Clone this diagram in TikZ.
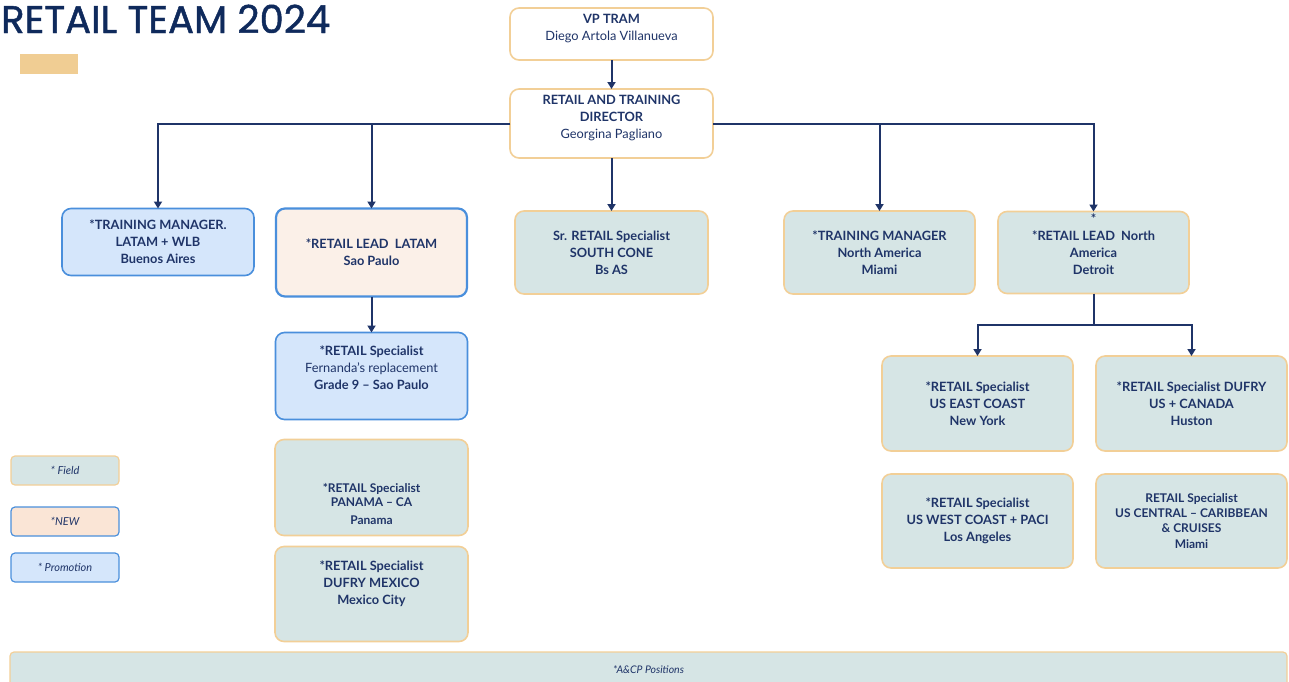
\documentclass[tikz,border=0pt]{standalone}
\usepackage{fontspec}
\setmainfont{Lato}
\newfontfamily\titlefont[FakeBold=1.2]{Poppins}
\usetikzlibrary{positioning,arrows.meta}

\definecolor{navy}{HTML}{1F3468}
\definecolor{titleblue}{HTML}{0F2A5C}
\definecolor{fieldfill}{HTML}{D6E5E5}
\definecolor{fieldline}{HTML}{F2CF97}
\definecolor{promofill}{HTML}{D5E6FB}
\definecolor{promoline}{HTML}{4A8FDC}
\definecolor{newfill}{HTML}{FBF0E8}
\definecolor{newlegend}{HTML}{FAE5D6}
\definecolor{gold}{HTML}{F0CD93}

\tikzset{
  box/.style={draw, rounded corners=9pt, line width=1.6pt, align=center, text=navy,
    font=\bfseries\fontsize{12.8}{17}\selectfont, inner sep=2pt, outer sep=0pt},
  head/.style={box, draw=fieldline, fill=white, minimum width=203pt},
  field/.style={box, draw=fieldline, fill=fieldfill, minimum width=192pt},
  promo/.style={box, draw=promoline, fill=promofill, minimum width=192pt},
  newpos/.style={box, draw=promoline, fill=newfill, line width=2.2pt, minimum width=191pt},
  legend/.style={box, rounded corners=4pt, line width=1.2pt, minimum width=108pt,
    minimum height=29pt, font=\itshape\fontsize{11}{13}\selectfont},
  small/.style={font=\bfseries\fontsize{12}{15.5}\selectfont},
  conn/.style={draw=navy, line width=2pt, -{Triangle[width=8pt,length=7pt]}},
}

\begin{document}
\begin{tikzpicture}[x=1pt,y=-1pt]
  \useasboundingbox (0,0) rectangle (1289,681);

  % title
  \node[anchor=base west, text=titleblue, font=\titlefont\fontsize{38.5}{42}\selectfont, inner sep=0pt] (title) at (1,33) {RETAIL TEAM 2024};
  \fill[gold] (20,54) rectangle (78,74);

  % top of the chart
  \node[head, minimum height=52pt] (vp) at (611.5,34) {VP TRAM\\{\mdseries Diego Artola Villanueva}\\[-4pt]\mbox{}};
  \node[head, minimum height=69pt, below=29pt of vp] (dir) {RETAIL AND TRAINING\\DIRECTOR\\{\mdseries Georgina Pagliano}\\[-3pt]\mbox{}};

  % first row
  \node[field, minimum width=193pt, minimum height=83pt, below=53pt of dir] (srs) {Sr. RETAIL Specialist\\SOUTH CONE\\Bs AS};
  \node[newpos, minimum height=88pt, left=48pt of srs] (rll) {*RETAIL LEAD\ \ LATAM\\Sao Paulo};
  \node[promo, minimum height=67pt, anchor=north east] (tml) at ([xshift=-22pt]rll.north west) {*TRAINING MANAGER.\\LATAM + WLB\\Buenos Aires};
  \node[field, minimum width=191pt, minimum height=83pt, right=76pt of srs] (tmna) {*TRAINING MANAGER\\North America\\Miami};
  \node[field, minimum width=191pt, minimum height=82pt, right=23pt of tmna] (rlna) {*\\*RETAIL LEAD\ \ North\\America\\Detroit\\\mbox{}};

  % latam column
  \node[promo, minimum height=87pt, below=36pt of rll] (fer) {*RETAIL Specialist\\{\mdseries Fernanda’s replacement}\\Grade 9 -- Sao Paulo\\\mbox{}};
  \node[field, small, minimum width=193pt, minimum height=96pt, below=20pt of fer] (pan) {\mbox{}\\[26pt]*RETAIL Specialist\\[-1.5pt]PANAMA -- CA\\[2.5pt]Panama};
  \node[field, minimum width=193pt, minimum height=95pt, below=11pt of pan] (mex) {*RETAIL Specialist\\DUFRY MEXICO\\Mexico City\\[6pt]\mbox{}};

  % north america column
  \coordinate[below=31.5pt of rlna] (split);
  \node[field, minimum width=191pt, minimum height=95pt] (use) at (977.5,403.5) {*RETAIL Specialist\\US EAST COAST\\New York};
  \node[field, minimum width=191pt, minimum height=95pt, right=23pt of use] (dufry) {*RETAIL Specialist DUFRY\\US + CANADA\\Huston};
  \node[field, minimum width=191pt, minimum height=94pt, below=23pt of use] (usw) {*RETAIL Specialist\\US WEST COAST + PACI\\Los Angeles};
  \node[field, small, minimum width=191pt, minimum height=94pt, right=23pt of usw] (usc) {RETAIL Specialist\\[-0.5pt]US CENTRAL -- CARIBBEAN\\[-0.5pt]\& CRUISES\\Miami};

  % legend
  \node[legend, draw=fieldline, fill=fieldfill] (lgfield) at (65,470.5) {* Field};
  \node[legend, draw=promoline, fill=newlegend, below=22pt of lgfield] (lgnew) {*NEW};
  \node[legend, draw=promoline, fill=promofill, below=17pt of lgnew] (lgpromo) {* Promotion};

  % bottom bar
  \node[box, draw=fieldline, fill=fieldfill, rounded corners=4pt, line width=1.2pt,
    minimum width=1277pt, minimum height=44pt, font=\itshape\fontsize{10.5}{12}\selectfont] (acp) at (648.5,674) {\raisebox{8pt}{*A\&CP Positions}};

  % connectors
  \draw[conn] (vp) -- (dir);
  \draw[conn] (dir) -- (srs);
  \draw[conn] (dir.west) -| (tml.north);
  \draw[conn] (dir.west) -| (rll.north);
  \draw[conn] (dir.east) -| (tmna.north);
  \draw[conn] (dir.east) -| (rlna.north);
  \draw[conn] (rll) -- (fer);
  \draw[draw=navy, line width=2pt] (rlna.south) -- (split);
  \draw[conn] (split) -| (use.north);
  \draw[conn] (split) -| (dufry.north);
\end{tikzpicture}
\end{document}
